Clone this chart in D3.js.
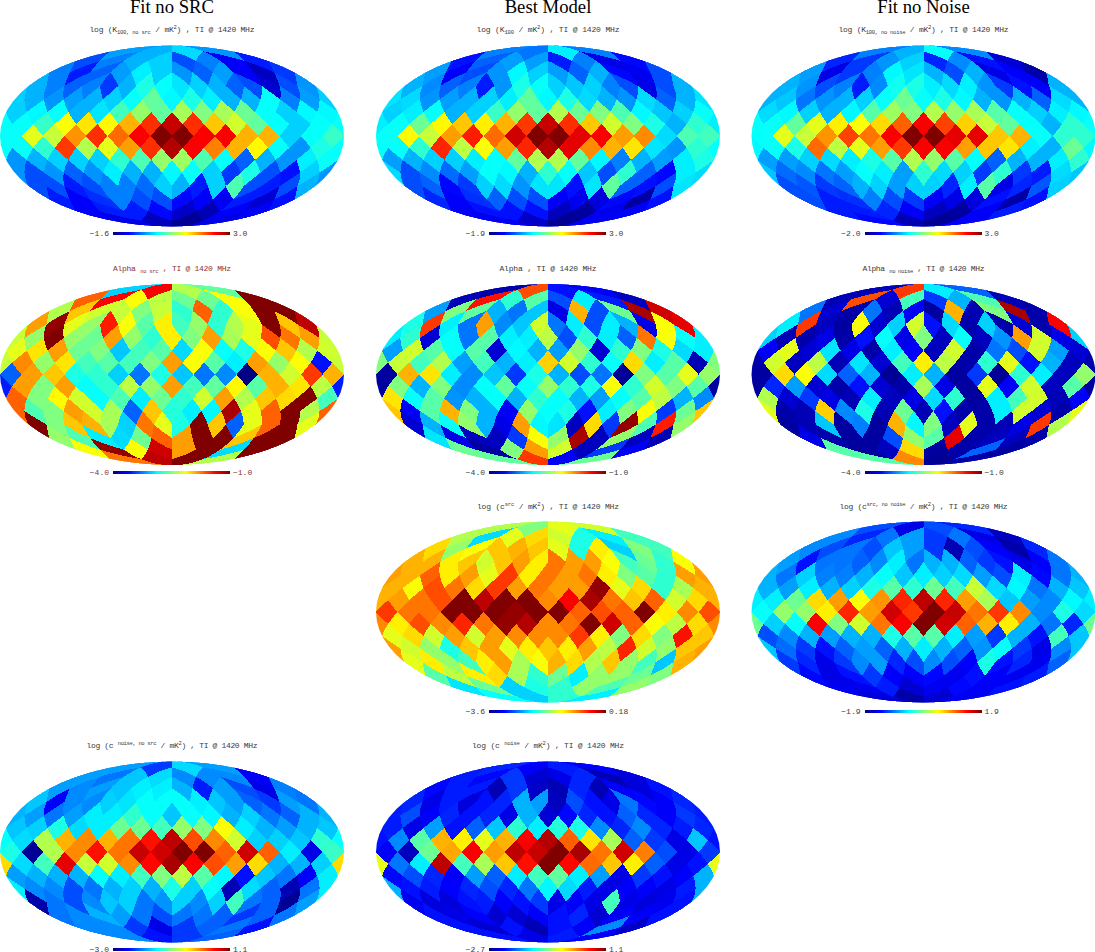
<!DOCTYPE html>
<html><head><meta charset="utf-8">
<script src="https://cdn.jsdelivr.net/npm/d3@7/dist/d3.min.js"></script>
<style>html,body{margin:0;padding:0;background:#fff;overflow:hidden}svg{display:block}</style>
</head><body><svg id="c" width="1095" height="952"></svg>
<script>
// Each list holds one HEALPix nside=4 map, ring by ring from north to south, left to right in the picture.
const k100NoSrc=[28,30,34,27,
20,25,30,33,20,25,12,15,
25,15,22,28,36,33,27,22,28,12,6,18,
30,25,22,25,18,30,40,38,35,33,30,22,20,8,20,27,
33,30,27,28,30,33,38,47,37,40,36,30,30,38,25,28,
33,37,38,30,35,44,52,47,54,50,54,48,38,33,37,37,
38,38,43,62,65,63,70,83,93,83,68,58,47,38,33,38,
38,60,57,73,83,77,88,100,100,88,88,70,70,33,38,43,
38,38,42,82,55,60,72,83,95,88,75,70,63,38,27,40,
27,30,33,33,33,42,45,52,53,45,38,22,30,27,36,38,
27,20,27,22,27,36,30,30,37,38,33,18,40,20,14,33,
20,20,15,20,25,25,23,33,30,15,33,45,20,15,20,30,
15,12,17,25,20,20,13,12,12,15,8,14,
12,15,15,13,7,5,12,12,
10,6,2,10];
const k100Best=[25,24,36,25,
14,22,28,28,15,25,10,13,
28,12,20,27,37,33,28,22,30,13,11,20,
30,26,22,25,15,27,40,38,33,32,33,25,20,10,20,30,
35,34,27,28,30,33,36,47,37,40,34,30,27,34,22,30,
33,36,38,30,33,43,52,47,55,48,50,45,37,32,33,38,
36,38,48,63,68,64,70,82,93,83,68,58,50,40,30,42,
38,63,57,72,85,77,92,100,100,90,88,72,74,34,45,44,
38,38,42,84,56,62,72,84,95,90,74,70,65,35,27,42,
28,30,33,33,36,38,47,55,55,47,37,25,30,28,36,40,
34,20,26,23,28,38,37,30,42,38,32,20,42,22,13,36,
20,22,13,18,33,34,27,35,35,14,35,47,22,14,20,35,
16,12,17,22,20,20,12,11,9,13,3,14,
12,14,14,14,6,3,11,12,
11,7,2,11];
const k100NoNoise=[25,30,38,26,
16,18,27,33,16,26,14,8,
28,10,18,25,37,35,30,20,30,10,12,4,
30,27,20,25,15,26,39,40,36,34,36,27,18,14,12,30,
30,32,24,27,30,33,38,48,38,40,37,30,27,30,22,34,
34,37,33,30,37,46,53,50,55,52,54,46,38,33,36,37,
38,38,47,60,64,62,66,78,88,81,67,57,47,38,30,42,
38,60,57,73,81,76,88,100,100,90,90,68,70,38,42,42,
37,38,40,77,56,60,72,82,88,88,72,68,65,36,30,48,
28,28,33,34,36,40,46,55,52,46,38,22,30,30,36,42,
32,23,26,24,28,38,36,28,42,34,33,18,42,18,15,34,
20,21,18,22,30,33,28,33,33,16,36,46,10,16,21,33,
20,15,17,25,20,18,12,10,9,14,4,14,
15,15,16,12,6,3,12,15,
13,5,2,12];
const alphaNoSrc=[33,88,55,47,
78,88,62,56,48,48,62,100,
55,68,58,57,50,57,42,78,42,62,100,100,
72,98,60,52,85,62,46,64,44,52,42,55,60,100,68,94,
57,52,100,52,48,72,52,42,64,50,72,54,60,80,76,72,
60,65,72,48,50,32,44,46,34,62,38,40,62,68,55,58,
57,74,52,65,44,46,44,50,72,62,46,36,72,52,62,14,
22,72,68,40,42,33,24,40,32,24,26,0,70,58,82,70,
15,72,50,72,38,42,56,52,72,44,47,63,46,70,65,56,
78,50,63,58,38,45,36,48,42,58,72,55,68,66,100,44,
78,45,50,72,58,54,22,68,41,36,37,96,60,78,100,55,
100,50,68,70,54,33,76,60,40,100,68,22,60,78,100,60,
52,45,36,34,48,78,72,100,100,68,100,100,
62,98,62,92,72,100,34,100,
76,94,100,55];
const alphaBest=[4,80,14,12,
5,86,42,46,20,36,15,6,
28,50,47,30,24,32,10,70,20,48,96,92,
40,82,36,24,72,26,32,58,24,36,20,36,30,10,62,90,
36,42,8,38,24,46,36,36,56,20,42,36,22,76,62,38,
28,58,46,38,46,8,37,30,28,52,8,42,50,40,34,36,
50,57,44,55,28,44,30,36,67,58,42,38,66,36,46,5,
3,70,65,36,26,32,18,40,30,20,24,2,50,46,60,52,
3,50,30,50,26,38,47,38,52,42,40,62,42,58,50,46,
65,38,46,27,30,38,30,42,38,30,28,38,46,56,30,26,
68,12,46,70,50,30,12,52,38,40,14,36,50,62,18,48,
8,30,38,52,30,10,72,37,35,6,66,18,98,45,85,52,
35,10,6,6,18,62,52,96,6,52,6,5,
48,3,50,72,58,6,18,12,
47,82,12,48];
const alphaNoNoise=[5,82,36,22,
5,80,8,44,18,30,45,5,
24,8,4,24,5,12,3,70,5,50,96,4,
36,82,6,3,62,8,33,58,14,34,4,33,4,8,4,88,
33,5,4,10,4,14,38,10,50,6,38,6,27,72,58,10,
12,60,8,35,10,4,36,12,6,58,4,24,20,58,28,8,
4,58,6,56,5,35,8,44,64,56,4,42,60,14,30,6,
3,66,62,34,22,30,2,36,30,3,18,2,42,36,6,52,
3,16,28,8,4,14,8,4,54,10,3,60,12,58,6,46,
55,8,18,10,5,36,6,10,34,42,3,36,44,58,5,12,
60,4,5,67,26,40,5,48,5,14,4,4,36,58,8,4,
3,5,32,3,25,3,70,37,50,6,60,4,5,10,82,55,
10,4,3,3,20,52,46,90,4,6,6,4,
46,3,6,66,3,4,22,3,
46,74,2,4];
const cSrc=[55,50,60,58,
55,34,60,66,58,40,36,44,
66,52,62,68,70,68,60,40,64,33,50,44,
70,70,64,68,58,68,72,64,76,72,72,62,44,48,42,62,
72,70,78,64,72,60,82,64,76,72,76,64,50,46,42,72,
70,62,80,76,66,82,72,76,72,72,98,60,66,42,54,70,
70,72,76,80,100,94,100,100,74,88,96,76,68,78,58,66,
82,76,76,100,100,100,98,100,100,78,80,78,100,64,74,80,
74,64,80,74,84,76,98,95,74,76,100,92,78,62,56,66,
60,66,58,72,58,72,74,74,74,82,64,50,66,50,86,68,
72,58,52,40,68,72,60,64,68,64,72,56,84,58,52,68,
60,64,52,44,64,72,54,62,70,66,55,68,52,44,32,70,
46,56,64,66,54,42,48,36,52,52,48,50,
35,48,33,40,42,52,45,52,
38,33,42,36];
const cSrcNoNoise=[20,10,20,16,
26,16,24,28,18,24,10,6,
26,20,24,20,32,28,18,5,20,12,4,16,
28,14,24,24,22,26,36,24,30,30,22,18,14,10,12,24,
30,24,33,25,25,30,38,32,36,33,34,28,20,36,13,24,
30,28,36,30,33,40,46,42,48,44,57,34,37,24,30,32,
36,36,48,66,72,62,73,84,94,84,72,54,32,28,26,37,
38,52,52,64,84,72,92,82,100,93,76,82,74,26,40,34,
48,33,38,88,50,58,76,88,100,92,78,70,64,30,24,16,
20,26,30,28,30,30,40,46,46,36,28,18,30,14,44,32,
32,23,18,14,22,28,22,30,36,30,22,27,38,18,10,26,
18,16,10,18,26,28,16,20,26,20,12,40,14,16,11,22,
13,10,14,18,12,12,13,11,14,12,11,15,
11,11,15,8,11,13,12,14,
9,4,8,11];
const cNoiseNoSrc=[28,18,34,28,
28,24,32,34,26,26,26,12,
28,26,28,32,36,36,30,15,28,20,10,25,
32,12,26,26,33,35,38,38,38,36,32,28,22,18,28,24,
30,28,24,28,36,36,42,38,32,38,37,30,33,24,22,30,
32,33,40,34,36,48,48,44,52,50,62,36,30,28,30,32,
38,34,55,70,74,70,76,86,94,80,74,58,33,33,32,42,
40,2,55,74,86,76,93,92,100,100,78,92,78,36,10,43,
66,34,44,90,57,58,74,87,96,88,80,72,66,30,30,33,
28,30,30,30,38,36,44,50,56,46,37,14,32,24,12,36,
36,26,26,20,24,30,33,30,40,33,38,5,34,22,5,24,
4,24,20,26,32,33,24,27,33,26,33,44,24,22,2,28,
24,26,30,28,24,20,24,24,22,18,22,24,
26,26,18,10,18,22,24,14,
26,14,18,22];
const cNoise=[16,12,15,12,
15,13,18,8,10,16,5,9,
13,15,15,5,18,7,5,16,5,12,9,14,
16,10,15,9,14,16,30,28,6,20,14,10,24,13,12,16,
15,20,12,16,14,16,10,30,8,13,16,14,22,16,12,18,
15,10,28,14,22,32,42,36,41,40,26,16,26,16,15,16,
14,26,46,70,64,60,70,88,95,78,65,54,22,18,10,32,
12,6,48,71,88,72,94,93,100,96,76,92,75,20,10,18,
60,24,36,94,44,54,68,86,100,87,77,68,64,22,10,14,
13,20,16,12,28,22,36,44,47,36,28,10,18,14,12,30,
30,14,15,12,16,20,16,24,37,34,15,10,12,12,10,15,
11,9,9,14,15,12,14,18,10,12,10,44,10,9,11,14,
14,10,12,8,8,12,14,16,8,12,12,14,
14,8,14,5,14,12,26,7,
14,10,15,12];

const mapTitles=[
 [["log (K",""],["100, no src","sub"],[" / mK",""],["2","sup"],[") , TI @ 1420 MHz",""]],
 [["log (K",""],["100","sub"],[" / mK",""],["2","sup"],[") , TI @ 1420 MHz",""]],
 [["log (K",""],["100, no noise","sub"],[" / mK",""],["2","sup"],[") , TI @ 1420 MHz",""]],
 [["Alpha ",""],["no src","sub"],[" , TI @ 1420 MHz",""]],
 [["Alpha , TI @ 1420 MHz",""]],
 [["Alpha ",""],["no noise","sub"],[" , TI @ 1420 MHz",""]],
 [["log (c",""],["src","sup"],[" / mK",""],["2","sup"],[") , TI @ 1420 MHz",""]],
 [["log (c",""],["src, no noise","sup"],[" / mK",""],["2","sup"],[") , TI @ 1420 MHz",""]],
 [["log (c ",""],["noise, no src","sup"],[" / mK",""],["2","sup"],[") , TI @ 1420 MHz",""]],
 [["log (c ",""],["noise","sup"],["  / mK",""],["2","sup"],[") , TI @ 1420 MHz",""]]
];
const barMinLabels=["\u22121.6","\u22121.9","\u22122.0","\u22124.0","\u22124.0","\u22124.0","\u22123.6","\u22121.9","\u22123.0","\u22122.7"];
const barMaxLabels=["3.0","3.0","3.0","\u22121.0","\u22121.0","\u22121.0","0.18","1.9","1.1","1.1"];
const columnHeads=["Fit no SRC","Best Model","Fit no Noise"];
const mapValues=[k100NoSrc,k100Best,k100NoNoise,alphaNoSrc,alphaBest,alphaNoNoise,cSrc,cSrcNoNoise,cNoiseNoSrc,cNoise];

// layout
const colX=[172,548,923.5], rowY=[136,374.5,612,852], barY=[232,470.7,710,948];
const titleY=[32,270.5,509,748];
const mapCell=[[0,0],[1,0],[2,0],[0,1],[1,1],[2,1],[1,2],[2,2],[0,3],[1,3]];
const titleWidth=[165,143,170,118,97,122,142,168,171,152];
const R=172,H=90.7,HALF=Math.PI/16;
const smallFont="'Liberation Mono','DejaVu Sans Mono',monospace";

const svg=d3.select("#c");
const jet=d3.scaleLinear().domain([0,12.5,37.5,62.5,87.5,100])
 .range(["#000083","#0000ff","#00ffff","#ffff00","#ff0000","#800000"]).clamp(true);

// HEALPix nside=4 diamonds in the (xs,ys) plane, left to right in each ring
function ringCentres(k){
 const kk=Math.min(k,16-k), ys=Math.PI/2-k*Math.PI/16, out=[];
 if(kk<4){
  for(let j=-2;j<2;j++){const xf=(j+.5)*Math.PI/2;
   for(let i=0;i<kk;i++) out.push([xf+(i-(kk-1)/2)*Math.PI/8,ys]);}
 } else {
  const off=k%2===0?Math.PI/16:0;
  for(let i=0;i<16;i++) out.push([-Math.PI+off+i*Math.PI/8,ys]);
 }
 return out;
}
const centres=d3.range(1,16).flatMap(ringCentres);
function toSphere(xs,ys,xf){
 const a=Math.abs(ys);
 if(a<=Math.PI/4) return [xs,Math.asin(8*ys/(3*Math.PI))];
 const sigma=a*4/Math.PI, t=2-sigma;
 const z=Math.sign(ys)*(1-t*t/3);
 const phi=t<1e-9?xf:xf+(xs-xf)/t;
 return [phi,Math.asin(z)];
}
function mollweide(lon,lat){
 if(Math.abs(Math.abs(lat)-Math.PI/2)<1e-9) return [0,Math.sign(lat)];
 let th=lat;const target=Math.PI*Math.sin(lat);
 for(let i=0;i<40;i++){const f=2*th+Math.sin(2*th)-target,d=2+2*Math.cos(2*th);if(Math.abs(d)<1e-9)break;th-=f/d;}
 return [lon/Math.PI*Math.cos(th),Math.sin(th)];
}
function diamond([xc,yc]){
 const xf=(Math.floor(xc/(Math.PI/2))+.5)*Math.PI/2;
 const v=[[xc,yc+HALF],[xc+HALF,yc],[xc,yc-HALF],[xc-HALF,yc]], pts=[];
 for(let e=0;e<4;e++){const a=v[e],b=v[(e+1)%4];
  for(let s=0;s<16;s++){const t=s/16;
   pts.push(mollweide(...toSphere(a[0]+(b[0]-a[0])*t,a[1]+(b[1]-a[1])*t,xf)));}}
 return pts;
}
const outlines=centres.map(diamond);
// A pixel on the ±180° meridian also shows at the right edge: one full turn further at each point's latitude.
const turnRight=p=>[p[0]+2*Math.sqrt(Math.max(0,1-p[1]*p[1])),p[1]];

svg.selectAll("text.head").data(columnHeads).join("text").attr("class","head")
 .attr("x",(d,i)=>colX[i]).attr("y",13).attr("text-anchor","middle")
 .attr("font-family","'Liberation Serif',serif").attr("font-size",18.7).attr("fill","#000").text(d=>d);

mapValues.forEach((vals,m)=>{
 const [c,r]=mapCell[m], cx=colX[c], cy=rowY[r];
 const sx=d3.scaleLinear().domain([-1,1]).range([cx-R,cx+R]);
 const sy=d3.scaleLinear().domain([-1,1]).range([cy+H,cy-H]);
 const line=d3.line().x(p=>sx(p[0])).y(p=>sy(p[1])).curve(d3.curveLinearClosed);
 const g=svg.append("g");
 const id="clip"+m;
 g.append("clipPath").attr("id",id).append("ellipse").attr("cx",cx).attr("cy",cy).attr("rx",R).attr("ry",H);
 const cells=g.append("g").attr("clip-path",`url(#${id})`);
 cells.selectAll("path.cell").data(vals).join("path").attr("class","cell")
  .attr("d",(d,i)=>line(outlines[i])).attr("fill",d=>jet(d)).attr("shape-rendering","crispEdges");
 cells.selectAll("path.wrap").data(vals.map((d,i)=>[d,i]).filter(([d,i])=>Math.abs(centres[i][0]+Math.PI)<1e-9))
  .join("path").attr("class","wrap")
  .attr("d",([d,i])=>line(outlines[i].map(turnRight)))
  .attr("fill",([d])=>jet(d)).attr("shape-rendering","crispEdges");

 const ink=m===3?"#8b3232":"#3a3a3a";
 const t=svg.append("text").attr("x",cx).attr("y",titleY[r]).attr("text-anchor","middle")
  .attr("font-family",smallFont).attr("font-size",8).attr("fill",ink)
  .attr("textLength",titleWidth[m]).attr("lengthAdjust","spacing");
 mapTitles[m].forEach(([s,kind],i,arr)=>{
  const prev=i?arr[i-1][1]:"";
  const shift=(kind==="sub"?2:kind==="sup"?-3:0)-(prev==="sub"?2:prev==="sup"?-3:0);
  t.append("tspan").attr("dy",shift).attr("font-size",kind?5.5:8).text(s);
 });

 const barX=d3.scaleLinear().domain([0,100]).range([cx-59,cx+57]);
 const barG=svg.append("g");
 barG.selectAll("rect").data(d3.range(0,100,100/116)).join("rect")
  .attr("x",d=>barX(d)).attr("y",barY[r]).attr("width",1.2).attr("height",3)
  .attr("fill",d=>jet(d)).attr("shape-rendering","crispEdges");
 barG.append("text").attr("x",barX(0)-4).attr("y",barY[r]+4).attr("text-anchor","end")
  .attr("font-family",smallFont).attr("font-size",8).attr("fill",ink).text(barMinLabels[m]);
 barG.append("text").attr("x",barX(100)+4).attr("y",barY[r]+4)
  .attr("font-family",smallFont).attr("font-size",8).attr("fill",ink).text(barMaxLabels[m]);
});
</script></body></html>
